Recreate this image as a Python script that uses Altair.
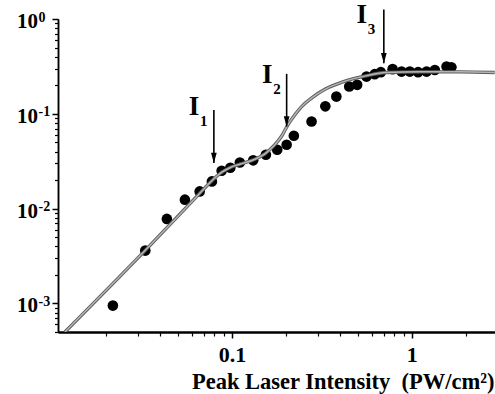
import altair as alt
import pandas as pd

# measured data points
x_pts = [0.0218, 0.0330, 0.0435, 0.0548, 0.0662, 0.0774, 0.0877, 0.098, 0.1107, 0.1313,
         0.1545, 0.1786, 0.2015, 0.221, 0.2772, 0.3306, 0.3808, 0.449, 0.497, 0.560,
         0.622, 0.673, 0.782, 0.877, 0.975, 1.084, 1.208, 1.343, 1.56, 1.66]
y_pts = [0.00095, 0.00361, 0.00779, 0.01244, 0.0152, 0.01938, 0.0251, 0.0270, 0.0307, 0.0323,
         0.0370, 0.0418, 0.0472, 0.0587, 0.0830, 0.120, 0.152, 0.194, 0.202, 0.247,
         0.262, 0.275, 0.296, 0.279, 0.279, 0.275, 0.279, 0.290, 0.315, 0.310]

# model curve
curve_x = [0.0118, 0.0329, 0.0664, 0.0774, 0.0880, 0.0987, 0.1107, 0.1342, 0.1526, 0.1734,
           0.1896, 0.2047, 0.2239, 0.2448, 0.2783, 0.3327, 0.4137, 0.5551, 0.717, 1.108,
           1.848, 2.89]
curve_y = [0.0005, 0.00361, 0.01456, 0.01971, 0.02422, 0.02734, 0.0294, 0.0332, 0.0379, 0.0472,
           0.0587, 0.0766, 0.0976, 0.120, 0.1474, 0.1833, 0.2172, 0.2512, 0.273, 0.277,
           0.277, 0.273]

# arrows and labels
arrow_x = [0.0794, 0.2015, 0.699]
arrow_top = [0.110, 0.264, 1.26]
arrow_tip = [0.0303, 0.0735, 0.342]
label_x = [0.0615, 0.1574, 0.527]
label_y = [0.0976, 0.2095, 0.91]
label_main = ["I", "I", "I"]
label_sub = ["1", "2", "3"]

# ticks
x_major = [0.1, 1]
x_minor = [0.02, 0.03, 0.04, 0.05, 0.06, 0.07, 0.08, 0.09,
           0.2, 0.3, 0.4, 0.5, 0.6, 0.7, 0.8, 0.9, 2]
y_major = [0.001, 0.01, 0.1, 1]
y_base = ["10", "10", "10", "10"]
y_exp = ["-3", "-2", "-1", "0"]
y_minor = [0.0005, 0.0006, 0.0007, 0.0008, 0.0009,
           0.002, 0.003, 0.004, 0.005, 0.006, 0.007, 0.008, 0.009,
           0.02, 0.03, 0.04, 0.05, 0.06, 0.07, 0.08, 0.09,
           0.2, 0.3, 0.4, 0.5, 0.6, 0.7, 0.8, 0.9]

FONT = "'Liberation Serif', 'Times New Roman', Times, serif"

xs = alt.Scale(type="log", domain=[0.0108, 2.9], nice=False)
ys = alt.Scale(type="log", domain=[0.0005, 1], nice=False)

pts = pd.DataFrame({"x": x_pts, "y": y_pts})
cur = pd.DataFrame({"x": curve_x, "y": curve_y})
arr = pd.DataFrame({"x": arrow_x, "top": arrow_top, "tip": arrow_tip})
lab = pd.DataFrame({"x": label_x, "y": label_y, "m": label_main, "s": label_sub})
ylab = pd.DataFrame({"y": y_major, "b": y_base, "e": y_exp})

x_major_axis = alt.Axis(orient="bottom", values=x_major, tickSize=6, tickWidth=1.5,
                        domainWidth=2, domainColor="black", tickColor="black",
                        labelExpr="datum.value >= 1 ? '1' : '0.1'",
                        labelFont=FONT, labelFontWeight="bold", labelFontSize=22,
                        labelColor="black", labelPadding=6, grid=False,
                        title="Peak Laser Intensity\u00a0 (PW/cm\u00b2)",
                        titleFont=FONT, titleFontWeight="bold", titleFontSize=22.5,
                        titleColor="black", titleX=436, titleY=56,
                        titleAlign="right", titleBaseline="alphabetic")
y_major_axis = alt.Axis(orient="left", values=y_major, tickSize=6, tickWidth=1.5,
                        domainWidth=1.5, domainColor="black", tickColor="black",
                        labels=False, title=None, grid=False)
x_minor_axis = alt.Axis(orient="bottom", values=x_minor, tickSize=4, tickWidth=1.2,
                        domainWidth=2, domainColor="black", tickColor="black",
                        labels=False, title=None, grid=False)
y_minor_axis = alt.Axis(orient="left", values=y_minor, tickSize=3.5, tickWidth=1.2,
                        domainWidth=1.5, domainColor="black", tickColor="black",
                        labels=False, title=None, grid=False)

points = alt.Chart(pts).mark_circle(size=113, color="black", opacity=1).encode(
    x=alt.X("x:Q", scale=xs, axis=x_major_axis),
    y=alt.Y("y:Q", scale=ys, axis=y_major_axis),
)

curve_dark = alt.Chart(cur).mark_line(color="#5e5e5e", strokeWidth=3.4,
                                      interpolate="monotone", clip=True).encode(
    x=alt.X("x:Q", scale=xs, axis=x_minor_axis),
    y=alt.Y("y:Q", scale=ys, axis=y_minor_axis),
)
curve_light = alt.Chart(cur).mark_line(color="#b4b4b4", strokeWidth=1.5,
                                       interpolate="monotone", clip=True).encode(
    x=alt.X("x:Q", scale=xs, axis=None),
    y=alt.Y("y:Q", scale=ys, axis=None),
)

arrows = alt.Chart(arr).mark_rule(color="black", strokeWidth=1.6).encode(
    x=alt.X("x:Q", scale=xs, axis=None),
    y=alt.Y("top:Q", scale=ys, axis=None),
    y2="tip:Q",
)
heads = alt.Chart(arr).mark_point(
    shape="M -0.28 -1 L 0.28 -1 L 0 0 Z", size=420, filled=True,
    color="black", opacity=1, strokeWidth=0).encode(
    x=alt.X("x:Q", scale=xs, axis=None),
    y=alt.Y("tip:Q", scale=ys, axis=None),
)

lab_main = alt.Chart(lab).mark_text(font=FONT, fontWeight="bold", fontSize=27,
                                    align="center", baseline="alphabetic",
                                    color="black").encode(
    x=alt.X("x:Q", scale=xs, axis=None),
    y=alt.Y("y:Q", scale=ys, axis=None),
    text="m:N",
)
lab_sub = alt.Chart(lab).mark_text(font=FONT, fontWeight="bold", fontSize=15,
                                   align="left", baseline="alphabetic", dx=6, dy=11,
                                   color="black").encode(
    x=alt.X("x:Q", scale=xs, axis=None),
    y=alt.Y("y:Q", scale=ys, axis=None),
    text="s:N",
)

ylab_base = alt.Chart(ylab).mark_text(font=FONT, fontWeight="bold", fontSize=21,
                                      align="right", baseline="alphabetic", dy=9,
                                      color="black").encode(
    x=alt.value(-20),
    y=alt.Y("y:Q", scale=ys, axis=None),
    text="b:N",
)
ylab_exp = alt.Chart(ylab).mark_text(font=FONT, fontWeight="bold", fontSize=14,
                                     align="left", baseline="alphabetic", dy=2.5,
                                     color="black").encode(
    x=alt.value(-19.5),
    y=alt.Y("y:Q", scale=ys, axis=None),
    text="e:N",
)

chart = alt.layer(
    points, curve_dark, curve_light, arrows, heads, lab_main, lab_sub, ylab_base, ylab_exp
).resolve_axis(x="independent", y="independent").properties(
    width=437, height=313,
    autosize=alt.AutoSizeParams(type="none"),
    padding={"left": 58, "top": 19, "right": 0, "bottom": 62},
    background="white",
).configure_view(stroke=None)

chart.save("out.html", embed_options={"renderer": "svg", "actions": False})
